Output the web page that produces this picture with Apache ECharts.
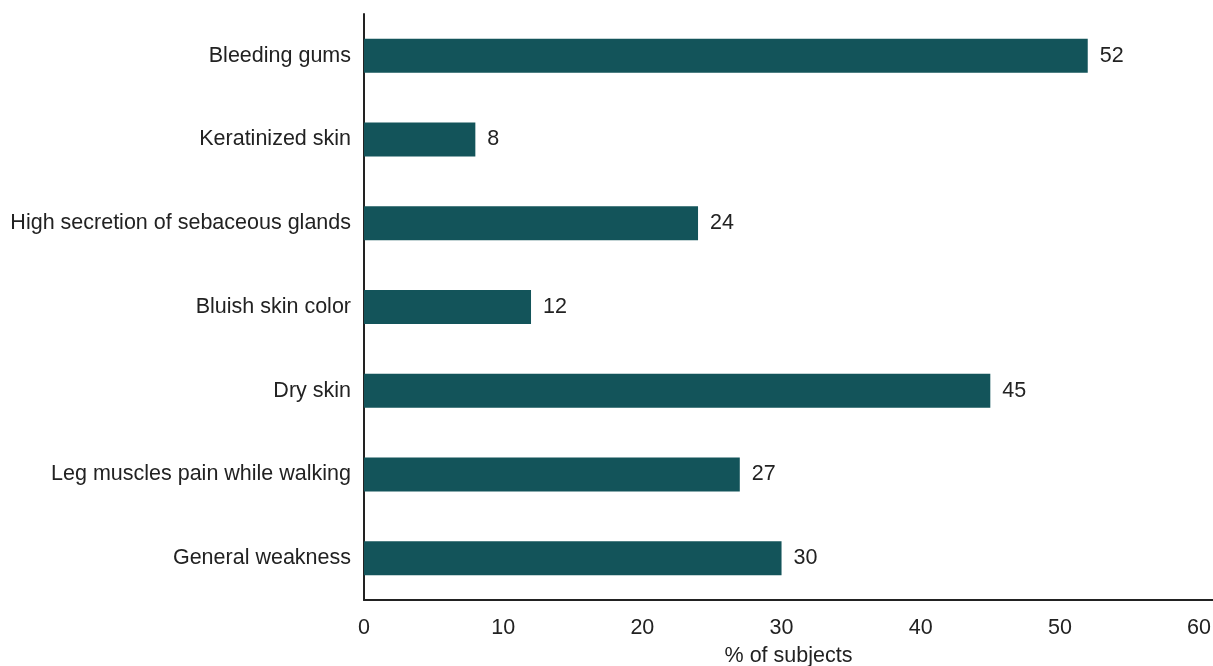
<!DOCTYPE html>
<html>
<head>
<meta charset="utf-8">
<script src="https://cdn.jsdelivr.net/npm/echarts@6/dist/echarts.min.js"></script>
<style>html,body{margin:0;padding:0;background:#fff}#c{width:1213px;height:666px}</style>
</head>
<body>
<div id="c"></div>
<script>
const categories = ["Bleeding gums", "Keratinized skin", "High secretion of sebaceous glands", "Bluish skin color", "Dry skin", "Leg muscles pain while walking", "General weakness"];
const values = [52, 8, 24, 12, 45, 27, 30];
const xTicks = [0, 10, 20, 30, 40, 50, 60];
const xAxisName = "% of subjects";

const font = "'Liberation Sans', Arial, Helvetica, sans-serif";
const fs = 21.5;
const chart = echarts.init(document.getElementById('c'));
chart.setOption({
  animation: false,
  grid: {left: 364, right: 0, top: 14, bottom: 66, containLabel: false, outerBoundsMode: 'none'},
  xAxis: {
    type: 'value', min: 0, max: 61, interval: 10,
    name: xAxisName, nameLocation: 'middle', nameGap: 45,
    nameTextStyle: {fontFamily: font, fontSize: fs, color: '#222'},
    axisLine: {show: true, lineStyle: {color: '#222', width: 2}},
    axisTick: {show: false},
    splitLine: {show: false},
    axisLabel: {fontFamily: font, fontSize: fs, color: '#222', margin: 17,
      formatter: v => xTicks.includes(v) ? String(v) : ''}
  },
  yAxis: {
    type: 'category', data: categories, inverse: true,
    axisLine: {show: true, lineStyle: {color: '#222', width: 2}},
    axisTick: {show: false},
    axisLabel: {fontFamily: font, fontSize: fs, color: '#222', margin: 13}
  },
  series: [{
    type: 'bar', data: values, barWidth: 34,
    itemStyle: {color: '#13545a'},
    label: {show: true, position: 'right', distance: 12, fontFamily: font, fontSize: fs, color: '#222'}
  }]
});
</script>
</body>
</html>
